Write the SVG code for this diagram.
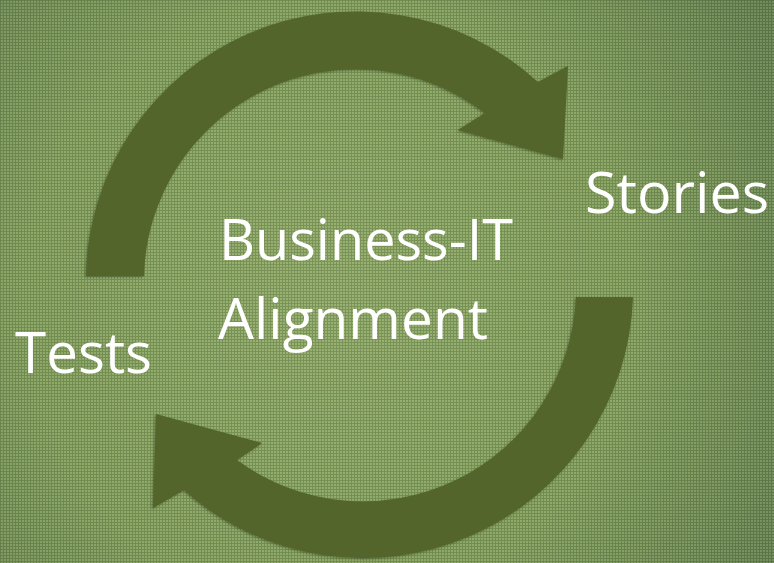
<svg xmlns="http://www.w3.org/2000/svg" width="774" height="563" viewBox="0 0 774 563">
  <style>
    .arrow { fill: #53652a; }
    .lbl { fill: #ffffff; font-family: "Open Sans", "Noto Sans", "DejaVu Sans", sans-serif; font-size: 56px; }
  </style>
  <defs>
    <radialGradient id="bg" cx="330" cy="300" r="560" gradientUnits="userSpaceOnUse">
      <stop offset="0" stop-color="#92ac6b"/>
      <stop offset="0.55" stop-color="#84a05f"/>
      <stop offset="1" stop-color="#617c50"/>
    </radialGradient>
    <pattern id="tex" width="3" height="3" patternUnits="userSpaceOnUse">
      <rect x="0" y="0" width="3" height="1" fill="#2e3f20" opacity="0.22"/>
      <rect x="0" y="1" width="1" height="2" fill="#2e3f20" opacity="0.22"/>
      <rect x="1" y="1" width="2" height="2" fill="#d6e6b0" opacity="0.12"/>
    </pattern>
    <filter id="sh" x="-10%" y="-10%" width="120%" height="120%">
      <feDropShadow dx="-1" dy="1" stdDeviation="1" flood-color="#2a3515" flood-opacity="0.5"/>
    </filter>
  </defs>
  <rect x="0" y="0" width="774" height="563" fill="url(#bg)"/>
  <rect x="0" y="0" width="774" height="563" fill="url(#tex)"/>
  <g id="connectors">
    <path id="arrow-top" class="arrow" filter="url(#sh)" d="M 86,276 A 270 270 0 0 1 538,82 L 568,66 L 563,159 L 458,130 L 485,113 A 212 212 0 0 0 144,276 Z"/>
    <path id="arrow-bottom" class="arrow" filter="url(#sh)" d="M 633,297 A 270 270 0 0 1 184,490 L 153,508 L 156,414 L 262,443 L 237,460 A 213 213 0 0 0 576,297 Z"/>
  </g>
  <g id="node-stories">
    <text class="lbl" x="585" y="213" textLength="184" lengthAdjust="spacingAndGlyphs">Stories</text>
  </g>
  <g id="node-center">
    <text class="lbl" x="219" y="260" textLength="294" lengthAdjust="spacingAndGlyphs">Business-IT</text>
    <text class="lbl" x="218" y="339" textLength="270" lengthAdjust="spacingAndGlyphs">Alignment</text>
  </g>
  <g id="node-tests">
    <text class="lbl" x="15" y="373" textLength="137" lengthAdjust="spacingAndGlyphs">Tests</text>
  </g>
</svg>
